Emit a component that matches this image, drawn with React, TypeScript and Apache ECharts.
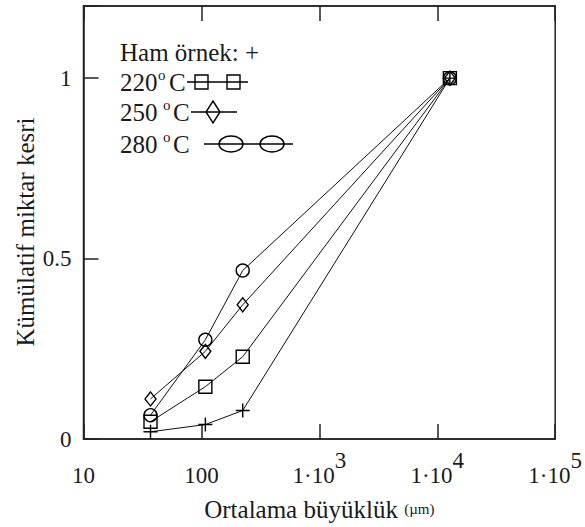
import React, { useEffect, useRef } from "react";
import * as echarts from "echarts";

// Mean particle size (µm) for each sieve fraction
const meanSize = [37, 108, 224, 12800];
// Cumulative fraction values
const hamValues = [0.02, 0.04, 0.079, 1];
const t220Values = [0.048, 0.145, 0.228, 1];
const t250Values = [0.111, 0.243, 0.372, 1];
const t280Values = [0.066, 0.275, 0.467, 1];

const yTicks = [0, 0.5, 1];
const xTickLabels: Record<number, string> = {
  10: "{n|10}",
  100: "{n|100}",
  1000: "{n|1·10}{s|3}",
  10000: "{n|1·10}{s|4}",
  100000: "{n|1·10}{s|5}",
};

const FONT = '"Liberation Serif", "Times New Roman", serif';
const TXT = "#1a1a1a";

const pair = (ys: number[]) => meanSize.map((x, i) => [x, ys[i]]);

export default function App() {
  const ref = useRef<HTMLDivElement>(null);
  useEffect(() => {
    if (!ref.current) return;
    const chart = echarts.init(ref.current, undefined, { renderer: "svg" });
    const markerStyle = {
      color: "rgba(255,255,255,0)",
      borderColor: "#000",
      borderWidth: 1.4,
    };
    const lineStyle = { color: "#111", width: 1 };
    const fs = 25;
    const tfs = 23;
    const degText = (label: string, y: number, oX: number, cX: number) => [
      {
        type: "text",
        x: 120,
        y,
        style: { text: label, font: `${fs}px ${FONT}`, fill: TXT, verticalAlign: "middle" },
      },
      {
        type: "text",
        x: oX,
        y: y - 7,
        style: { text: "o", font: `15px ${FONT}`, fill: TXT, verticalAlign: "middle" },
      },
      {
        type: "text",
        x: cX,
        y,
        style: { text: "C", font: `${fs}px ${FONT}`, fill: TXT, verticalAlign: "middle" },
      },
    ];
    const stroke = { stroke: "#000", lineWidth: 1.4, fill: "none" };
    const graphics: any[] = [
      {
        type: "text",
        x: 120,
        y: 52,
        style: { text: "Ham örnek: +", font: `${fs}px ${FONT}`, fill: TXT, verticalAlign: "middle" },
      },
      ...degText("220", 82, 158, 169),
      { type: "line", shape: { x1: 187, y1: 82, x2: 248, y2: 82 }, style: stroke },
      { type: "rect", shape: { x: 195, y: 75, width: 13, height: 14 }, style: stroke },
      { type: "rect", shape: { x: 227, y: 75, width: 13, height: 14 }, style: stroke },
      ...degText("250", 112, 163, 173),
      { type: "line", shape: { x1: 191, y1: 112, x2: 237, y2: 112 }, style: stroke },
      {
        type: "polygon",
        shape: { points: [[213, 101], [220, 112], [213, 123], [206, 112]] },
        style: stroke,
      },
      ...degText("280", 144, 163, 173),
      { type: "line", shape: { x1: 204, y1: 144, x2: 293, y2: 144 }, style: stroke },
      { type: "ellipse", shape: { cx: 231, cy: 144, rx: 12, ry: 8 }, style: stroke },
      { type: "ellipse", shape: { cx: 272, cy: 144, rx: 12, ry: 8 }, style: stroke },
      {
        type: "text",
        x: 25,
        y: 232,
        rotation: Math.PI / 2,
        style: {
          text: "Kümülatif miktar kesri",
          font: `25px ${FONT}`,
          fill: TXT,
          align: "center",
          verticalAlign: "middle",
        },
      },
    ];
    const xAxisBase = {
      type: "log",
      logBase: 10,
      min: 10,
      max: 100000,
      splitLine: { show: false },
      minorTick: { show: false },
      axisLine: { show: true, lineStyle: { color: "#222", width: 1.5 } },
      axisTick: { show: true, inside: true, length: 15, lineStyle: { color: "#222", width: 1.5 } },
    };
    chart.setOption({
      animation: false,
      backgroundColor: "#fff",
      grid: {
        left: 83.5,
        right: 26,
        top: 6,
        bottom: 88,
        show: true,
        borderColor: "#222",
        borderWidth: 1.5,
      },
      xAxis: [
        {
          ...xAxisBase,
          position: "bottom",
          name: "{a|Ortalama büyüklük }{b|(µm)}",
          nameLocation: "middle",
          nameGap: 56,
          nameTextStyle: {
            rich: {
              a: { fontSize: 25, fontFamily: FONT, color: TXT, lineHeight: 28, verticalAlign: "middle" },
              b: { fontSize: 15, fontFamily: FONT, color: TXT, lineHeight: 28, verticalAlign: "middle" },
            },
          },
          axisLabel: {
            margin: 9.5,
            formatter: (v: number) => xTickLabels[Math.round(v)] ?? "",
            rich: {
              n: {
                fontSize: tfs,
                fontFamily: FONT,
                color: TXT,
                lineHeight: 38,
                verticalAlign: "bottom",
              },
              s: {
                fontSize: tfs,
                fontFamily: FONT,
                color: TXT,
                lineHeight: 38,
                verticalAlign: "top",
              },
            },
          },
        },
        {
          ...xAxisBase,
          position: "top",
          axisLabel: { show: false },
        },
      ],
      yAxis: {
        type: "value",
        min: 0,
        max: 1.2,
        interval: 0.5,
        splitLine: { show: false },
        axisLine: { show: true, lineStyle: { color: "#222", width: 1.5 } },
        axisTick: { show: true, inside: true, length: 15, lineStyle: { color: "#222", width: 1.5 } },
        axisLabel: {
          margin: 12,
          fontSize: tfs,
          fontFamily: FONT,
          color: TXT,
          formatter: (v: number) => (yTicks.some((t) => Math.abs(t - v) < 1e-9) ? String(v) : ""),
        },
      },
      graphic: graphics,
      series: [
        {
          name: "Ham örnek",
          type: "line",
          data: pair(hamValues),
          symbol: "path://M5,0L5,10M0,5L10,5",
          symbolSize: 14,
          itemStyle: markerStyle,
          lineStyle,
        },
        {
          name: "220°C",
          type: "line",
          data: pair(t220Values),
          symbol: "rect",
          symbolSize: [13, 13],
          itemStyle: markerStyle,
          lineStyle,
        },
        {
          name: "250°C",
          type: "line",
          data: pair(t250Values),
          symbol: "diamond",
          symbolSize: [11, 14],
          itemStyle: markerStyle,
          lineStyle,
        },
        {
          name: "280°C",
          type: "line",
          data: pair(t280Values),
          symbol: "circle",
          symbolSize: 13,
          itemStyle: markerStyle,
          lineStyle,
        },
      ],
    });
    return () => chart.dispose();
  }, []);
  return (
    <div
      ref={ref}
      style={{ position: "fixed", left: 0, top: 0, width: 585, height: 527, background: "#fff" }}
    />
  );
}
